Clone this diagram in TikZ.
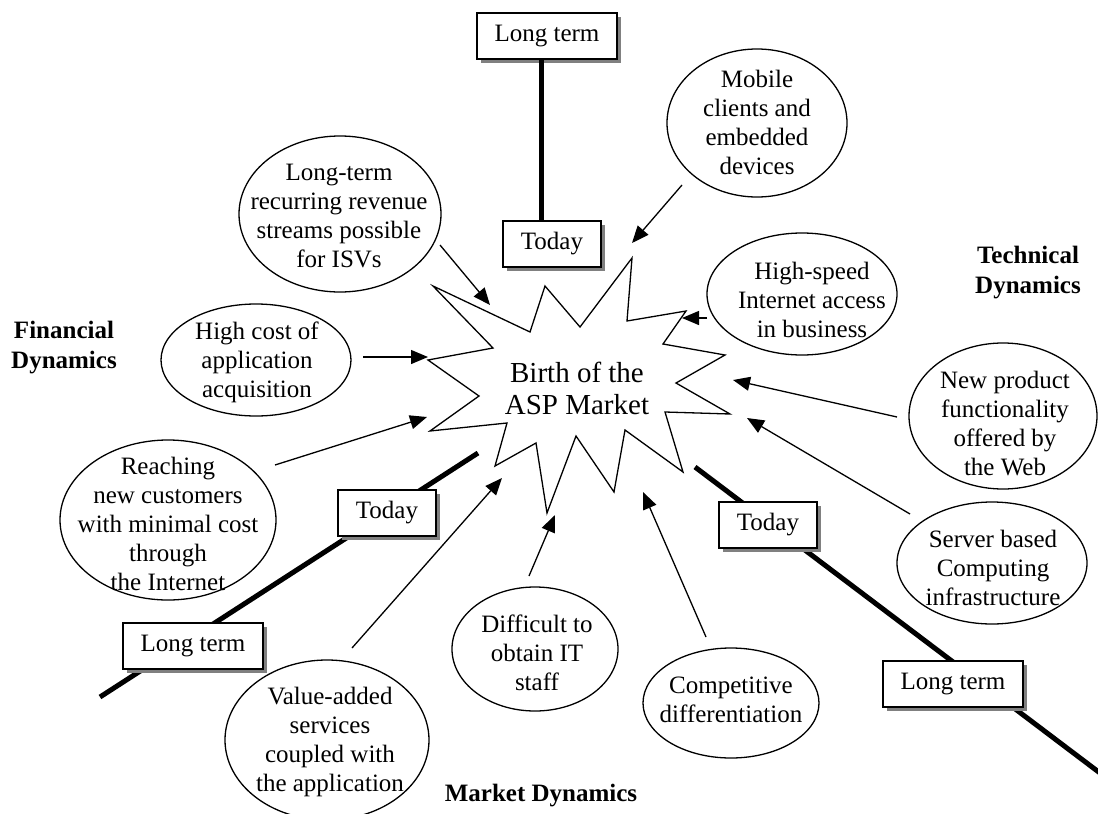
\documentclass[tikz,border=0pt]{standalone}
\usepackage{fontspec}
\setmainfont{Liberation Serif}
\usetikzlibrary{shapes.geometric,arrows.meta,shadows}
\begin{document}
\begin{tikzpicture}[x=1pt,y=-1pt,
  txt/.style={font=\fontsize{25}{29}\selectfont, align=center, inner sep=0pt},
  bigtxt/.style={font=\fontsize{29}{32}\selectfont, align=center, inner sep=0pt},
  bub/.style={ellipse, draw, line width=1.3pt, inner sep=0pt},
  tbox/.style={draw, fill=white, line width=1.3pt, minimum height=46pt, inner sep=0pt,
    font=\fontsize{25}{29}\selectfont,
    general shadow={fill=gray, shadow xshift=4pt, shadow yshift=-4pt}},
  arr/.style={line width=1.3pt, -{Triangle[length=17pt,width=14pt]}},
  timeline/.style={line width=5pt},
  dyn/.style={font=\fontsize{25}{30}\selectfont\bfseries, align=center, inner sep=0pt}
]
\useasboundingbox (0,0) rectangle (1098,814);

% star
\draw[line width=1.3pt, fill=white]
  (433,286) -- (530,332) -- (545,286) -- (580,327) -- (632,258) -- (627,321)
  -- (686,311) -- (663,344) -- (725,355) -- (676,383) -- (730,414) -- (665,412)
  -- (683,472) -- (625,430) -- (614,492) -- (576,436) -- (547,513) -- (536,443)
  -- (495,466) -- (507,423) -- (430,431) -- (479,396) -- (428,360) -- (493,348) -- cycle;
\node[bigtxt] (birth) at (577,388) {Birth of the\\ASP Market};

% timelines (drawn first, boxes on top)
\coordinate (L1) at (478,453);
\coordinate (L2) at (100,697);
\coordinate (R1) at (695,467);
\coordinate (R2) at (1100,773);
\draw[timeline] (L1) -- (L2);
\draw[timeline] (R1) -- (R2);

% boxes
\node[tbox, minimum width=140pt] (ltop) at (547,36) {Long term};
\node[tbox, minimum width=98pt] (ttop) at (552,244) {Today};
\coordinate (vx) at (541,0);
\draw[timeline] (vx |- ltop.south) -- (vx |- ttop.north);
\node[tbox, minimum width=98pt] (tleft) at (387,513) {Today};
\node[tbox, minimum width=140pt] (lleft) at (193,646) {Long term};
\node[tbox, minimum width=98pt] (tright) at (768,525) {Today};
\node[tbox, minimum width=140pt] (lright) at (953,684) {Long term};

% bubbles
\node[bub, minimum width=202pt, minimum height=156pt] (lt) at (340,214) {};
\node[txt] (ltT) at (339,216) {Long-term\\recurring revenue\\streams possible\\for ISVs};

\node[bub, minimum width=180pt, minimum height=148pt] (mob) at (757,123) {};
\node[txt] (mobT) at (757,122) {Mobile\\clients and\\embedded\\devices};

\node[bub, minimum width=190pt, minimum height=122pt] (hs) at (802,294) {};
\node[txt] (hsT) at (812,300) {High-speed\\Internet access\\in business};

\node[bub, minimum width=188pt, minimum height=146pt] (np) at (1003,416) {};
\node[txt] (npT) at (1005,424) {New product\\functionality\\offered by\\the Web};

\node[bub, minimum width=190pt, minimum height=122pt] (sb) at (992,563) {};
\node[txt] (sbT) at (993,568) {Server based\\Computing\\infrastructure};

\node[bub, minimum width=190pt, minimum height=112pt] (hc) at (256,360) {};
\node[txt] (hcT) at (257,362) {High cost of\\application\\acquisition};

\node[bub, minimum width=216pt, minimum height=160pt] (reach) at (168,520) {};
\node[txt] (reachT) at (168,524) {Reaching\\new customers\\with minimal cost\\through\\the Internet};

\node[bub, minimum width=204pt, minimum height=160pt] (va) at (327,740) {};
\node[txt] (vaT) at (330,742) {Value-added\\services\\coupled with\\the application};

\node[bub, minimum width=166pt, minimum height=124pt] (diff) at (535,649) {};
\node[txt] (diffT) at (537,653) {Difficult to\\obtain IT\\staff};

\node[bub, minimum width=176pt, minimum height=110pt] (comp) at (731,703) {};
\node[txt] (compT) at (731,700) {Competitive\\differentiation};

% dynamics labels
\node[dyn] (fin) at (64,348) {Financial\\Dynamics};
\node[dyn] (tech) at (1028,273) {Technical\\Dynamics};
\node[dyn] (mkt) at (541,796) {Market Dynamics};

% arrows
\coordinate (a1s) at (440,245); \coordinate (a1e) at (490,305);
\coordinate (a2s) at (682,185); \coordinate (a2e) at (632,243);
\coordinate (a3s) at (707,318); \coordinate (a3e) at (682,318);
\coordinate (a4s) at (897,417); \coordinate (a4e) at (733,380);
\coordinate (a5s) at (910,514); \coordinate (a5e) at (747,418);
\coordinate (a6s) at (363,357); \coordinate (a6e) at (428,357);
\coordinate (a7s) at (275,465); \coordinate (a7e) at (427,417);
\coordinate (a8s) at (352,648); \coordinate (a8e) at (502,478);
\coordinate (a9s) at (529,576); \coordinate (a9e) at (555,515);
\coordinate (a10s) at (706,637); \coordinate (a10e) at (643,492);
\foreach \i in {1,...,10} {\draw[arr] (a\i s) -- (a\i e);}
\end{tikzpicture}
\end{document}
